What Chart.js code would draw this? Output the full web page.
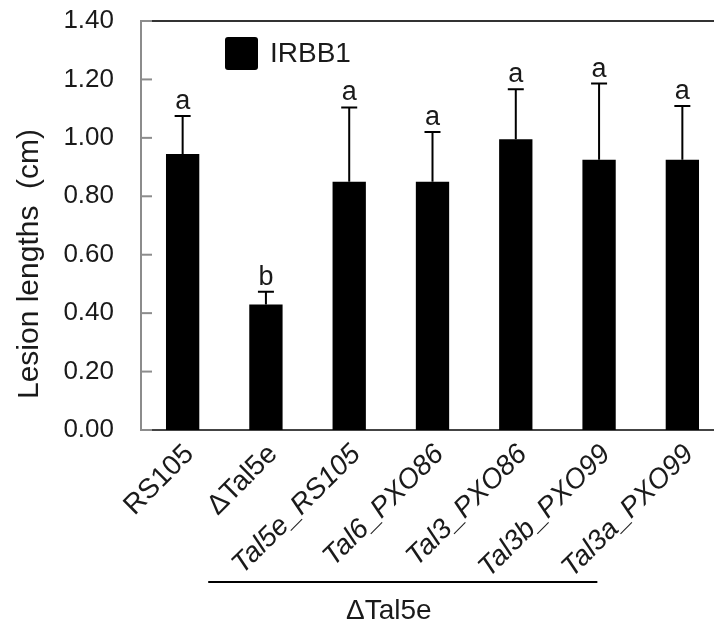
<!DOCTYPE html>
<html>
<head>
<meta charset="utf-8">
<script src="https://cdn.jsdelivr.net/npm/chart.js@4.4.0/dist/chart.umd.min.js"></script>
<style>
  html, body { margin: 0; padding: 0; background: #fff; overflow: hidden; }
  #wrap { width: 726px; height: 622px; }
</style>
</head>
<body>
<div id="wrap"><canvas id="myChart"></canvas></div>
<script>
var strains = ["RS105", "\u0394Tal5e", "Tal5e_RS105", "Tal6_PXO86", "Tal3_PXO86", "Tal3b_PXO99", "Tal3a_PXO99"];
var italicLabel = [false, false, true, true, true, true, true];
var lesionMeans = [0.945, 0.43, 0.85, 0.85, 0.995, 0.925, 0.925];
var lesionSD = [0.13, 0.043, 0.254, 0.17, 0.171, 0.261, 0.184];
var groupLetters = ["a", "b", "a", "a", "a", "a", "a"];
var seriesName = "IRBB1";
var bracketName = "\u0394Tal5e";
var bracketFrom = 2, bracketTo = 6;

var FONT = "'Liberation Sans', Arial, sans-serif";
var INK = '#1a1a1a';

function main() {
    document.addEventListener("DOMContentLoaded", () => {
        chart();
    }, false);
};

// error bars, letters, legend, frame and the bracket under the labels
var extras = {
    id: 'extras',
    afterDatasetsDraw: function (chart) {
        var ctx = chart.ctx,
            y = chart.scales.y,
            meta = chart.getDatasetMeta(0);
        ctx.save();
        ctx.strokeStyle = '#000';
        ctx.lineWidth = 2;
        ctx.fillStyle = INK;
        ctx.font = '27px ' + FONT;
        ctx.textAlign = 'center';
        ctx.textBaseline = 'alphabetic';
        meta.data.forEach(function (bar, i) {
            var top = y.getPixelForValue(lesionMeans[i] + lesionSD[i]);
            ctx.beginPath();
            ctx.moveTo(bar.x, bar.y);
            ctx.lineTo(bar.x, top);
            ctx.moveTo(bar.x - 8, top);
            ctx.lineTo(bar.x + 8, top);
            ctx.stroke();
            ctx.fillText(groupLetters[i], bar.x, top - 7);
        });
        ctx.restore();
    },
    afterDraw: function (chart) {
        var ctx = chart.ctx,
            area = chart.chartArea,
            x = chart.scales.x,
            y = chart.scales.y;
        ctx.save();

        // top frame line
        ctx.strokeStyle = '#333';
        ctx.lineWidth = 2;
        ctx.beginPath();
        ctx.moveTo(area.left + 11, area.top);
        ctx.lineTo(area.right, area.top);
        ctx.stroke();

        // inward tick marks
        ctx.strokeStyle = '#8c8c8c';
        y.ticks.forEach(function (t) {
            var py = y.getPixelForValue(t.value);
            ctx.beginPath();
            ctx.moveTo(area.left, py);
            ctx.lineTo(area.left + 11, py);
            ctx.stroke();
        });

        // y title
        ctx.fillStyle = INK;
        ctx.font = '30px ' + FONT;
        ctx.textAlign = 'center';
        ctx.textBaseline = 'alphabetic';
        ctx.translate(38, area.top + 243);
        ctx.rotate(-Math.PI / 2);
        ctx.fillText('Lesion lengths  (cm)', 0, 0);
        ctx.setTransform(1, 0, 0, 1, 0, 0);

        // legend
        ctx.fillStyle = '#000';
        ctx.beginPath();
        ctx.roundRect(area.left + 84, area.top + 16, 33, 33, 3);
        ctx.fill();
        ctx.fillStyle = INK;
        ctx.font = '28px ' + FONT;
        ctx.textAlign = 'left';
        ctx.textBaseline = 'middle';
        ctx.fillText(seriesName, area.left + 129, area.top + 33);

        // bracket for the mutant group
        var x0 = x.getPixelForValue(bracketFrom) - 141,
            x1 = x.getPixelForValue(bracketTo) - 85;
        ctx.strokeStyle = '#000';
        ctx.lineWidth = 2;
        ctx.beginPath();
        ctx.moveTo(x0, 582);
        ctx.lineTo(x1, 582);
        ctx.stroke();
        ctx.font = '28px ' + FONT;
        ctx.textAlign = 'center';
        ctx.textBaseline = 'alphabetic';
        ctx.fillText(bracketName, (x0 + x1) / 2 - 14, 619);
        ctx.restore();
    }
};

function chart() {
    var ctx = document.getElementById('myChart').getContext('2d'),
        data = {
            labels: strains,
            datasets: [{
                label: seriesName,
                data: lesionMeans,
                backgroundColor: '#000',
                borderWidth: 0,
                barPercentage: 0.4,
                categoryPercentage: 1.0
            }]
        };

    var myBarChart = new Chart(ctx, {
        type: 'bar',
        data: data,
        plugins: [extras],
        options: {
            animation: false,
            responsive: true,
            maintainAspectRatio: false,
            layout: { padding: { top: 21, right: 2, left: 0, bottom: 0 } },
            plugins: {
                legend: { display: false },
                tooltip: { enabled: false }
            },
            scales: {
                x: {
                    grid: { display: false },
                    border: { display: true, color: '#444', width: 2 },
                    ticks: {
                        autoSkip: false,
                        minRotation: 45,
                        maxRotation: 45,
                        padding: 0,
                        labelOffset: 7,
                        color: INK,
                        font: function (c) {
                            return { family: FONT, size: 28, style: italicLabel[c.index] ? 'italic' : 'normal' };
                        }
                    },
                    afterFit: function (s) { s.height = 192; }
                },
                y: {
                    min: 0,
                    max: 1.4,
                    grid: { display: false },
                    border: { display: true, color: '#8c8c8c', width: 2 },
                    ticks: {
                        stepSize: 0.2,
                        padding: 19,
                        color: INK,
                        font: { family: FONT, size: 26 },
                        callback: function (v) { return v.toFixed(2); }
                    },
                    afterFit: function (s) {
                        s.width = 141;
                        s.paddingTop = 0;
                        s.paddingBottom = 0;
                    }
                }
            }
        }
    });
};

main();
</script>
</body>
</html>
